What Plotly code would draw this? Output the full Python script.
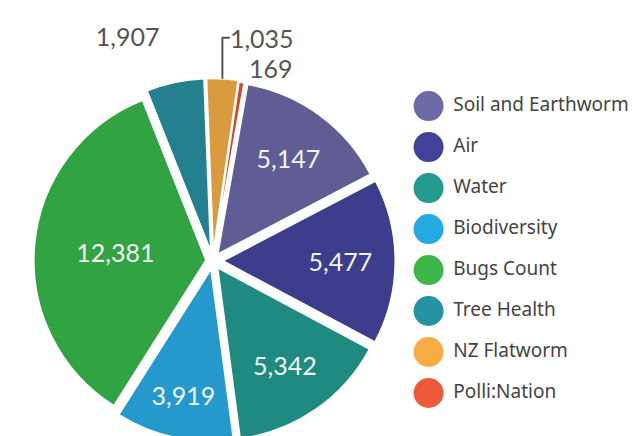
import plotly.graph_objects as go

categories = ["Soil and Earthworm", "Air", "Water", "Biodiversity",
              "Bugs Count", "Tree Health", "NZ Flatworm", "Polli:Nation"]
values = [5147, 5477, 5342, 3919, 12381, 1907, 1035, 169]

slice_colors = ["#605d94", "#3d3d8d", "#1f8b80", "#2598cc",
                "#32a343", "#24808f", "#d99a40", "#cc4b30"]
legend_colors = ["#6c6ba5", "#41439b", "#229a8d", "#24a9e1",
                 "#3db549", "#2593a4", "#f9ab45", "#ef593b"]
pulls = [0.05, 0.06, 0.05, 0.05, 0.04, 0.06, 0.06, 0.05]
text_pos = ["inside"] * 5 + ["outside"] * 3
templates = ["%{value:,}"] * 5 + ["%{value:,}<br> ", "%{value:,}", "%{value:,}"]

fig = go.Figure()
fig.add_trace(go.Pie(
    labels=categories, values=values, sort=False, direction="clockwise",
    rotation=10, pull=pulls,
    marker=dict(colors=slice_colors, line=dict(color="white", width=1.5)),
    texttemplate=templates, textinfo="value", textposition=text_pos,
    insidetextorientation="horizontal",
    insidetextfont=dict(family="Lato", size=25, color="#f4f4f4"),
    outsidetextfont=dict(family="Lato", size=25, color="#555555"),
    domain=dict(x=[0.035, 0.605], y=[0, 0.84]),
    showlegend=False, hoverinfo="label+value", automargin=False,
))

fig.add_trace(go.Scatter(
    x=[0] * len(categories), y=categories, mode="markers+text",
    text=[" " + c for c in categories], textposition="middle right",
    marker=dict(size=30, color=legend_colors),
    textfont=dict(family="Noto Sans", size=19, color="#444444"),
    cliponaxis=False, showlegend=False, hoverinfo="skip",
    xaxis="x", yaxis="y",
))

fig.update_layout(
    width=640, height=436,
    margin=dict(l=0, r=0, t=0, b=0),
    paper_bgcolor="white", plot_bgcolor="white",
    xaxis=dict(domain=[0.64, 1.0], range=[-0.05, 1], visible=False, fixedrange=True),
    yaxis=dict(domain=[0.07, 0.822], range=[7.5, -0.5], type="category",
               categoryorder="array", categoryarray=categories,
               visible=False, fixedrange=True),
)

fig.write_html("out.html")
